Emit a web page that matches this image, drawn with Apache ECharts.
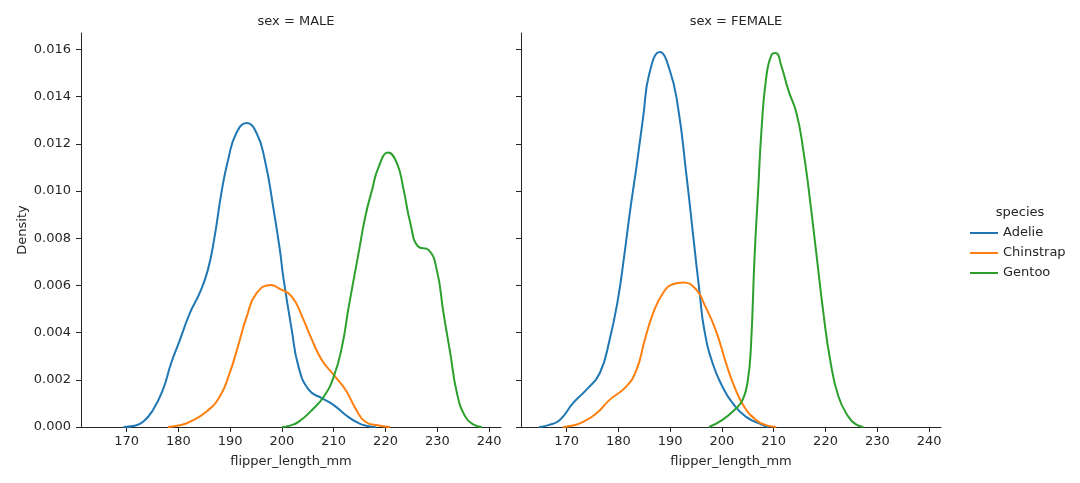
<!DOCTYPE html>
<html>
<head>
<meta charset="utf-8">
<script src="https://cdn.jsdelivr.net/npm/echarts@6/dist/echarts.min.js"></script>
<style>
html,body{margin:0;padding:0;background:#fff;}
#chart{width:1080px;height:483px;}
</style>
</head>
<body>
<div id="chart"></div>
<script>
// ---- data (flipper_length_mm, density) ----
const species = ['Adelie', 'Chinstrap', 'Gentoo'];
const panels = ['sex = MALE', 'sex = FEMALE'];
const xTicks = [170, 180, 190, 200, 210, 220, 230, 240];
const yTicks = [0, 0.002, 0.004, 0.006, 0.008, 0.010, 0.012, 0.014, 0.016];

const maleAdelie = [
  [169.4,0],[171.5,0.00005],[173.2,0.00022],[175.1,0.00072],[177.0,0.00157],[178.6,0.00270],
  [180.3,0.00369],[182.2,0.00482],[184.1,0.00567],[185.7,0.00666],[187.0,0.00807],[188.3,0.00991],
  [189.6,0.01132],[191.2,0.01246],[193.2,0.01288],[195.1,0.01246],[196.7,0.01132],[198.3,0.00934],
  [199.6,0.00751],[200.3,0.00630],[201.9,0.00411],[203.2,0.00256],[205.2,0.00157],[207.7,0.00122],
  [210.0,0.00093],[212.3,0.00051],[214.8,0.00016],[216.5,0.00004],[218.1,0]
];
const maleChinstrap = [
  [178.0,0],[180.0,0.00006],[182.2,0.00022],[185.4,0.00065],[188.0,0.00129],[189.9,0.00228],
  [191.5,0.00341],[193.2,0.00468],[195.1,0.00567],[197.9,0.00602],[199.4,0.00588],[201.9,0.00553],
  [203.9,0.00468],[205.8,0.00369],[207.7,0.00284],[210.0,0.00221],[212.3,0.00157],[214.2,0.00079],
  [216.1,0.00022],[218.7,0.00006],[220.9,0]
];
const maleGentoo = [
  [200.0,0],[201.5,0.00006],[203.2,0.00022],[205.8,0.00072],[208.1,0.00129],[210.0,0.00213],
  [211.6,0.00341],[212.9,0.00510],[214.8,0.00737],[216.1,0.00892],[217.4,0.01005],[218.7,0.01104],
  [220.5,0.01163],[222.2,0.01118],[223.5,0.01005],[224.8,0.00864],[226.3,0.00765],[228.3,0.00751],
  [229.9,0.00666],[231.2,0.00482],[232.5,0.00313],[233.8,0.00143],[235.4,0.00044],[237.0,0.00010],
  [238.6,0]
];
const femaleAdelie = [
  [164.7,0],[166.5,0.00008],[168.7,0.00030],[171.2,0.00100],[173.8,0.00157],[176.4,0.00228],
  [178.3,0.00369],[179.9,0.00539],[181.2,0.00737],[182.2,0.00906],[183.5,0.01104],[184.8,0.01316],
  [186.0,0.01500],[188.0,0.01589],[189.9,0.01514],[191.5,0.01358],[193.1,0.01076],[194.4,0.00821],
  [195.7,0.00567],[196.6,0.00411],[198.2,0.00270],[200.1,0.00171],[202.1,0.00100],[204.6,0.00044],
  [207.9,0.00008],[209.0,0]
];
const femaleChinstrap = [
  [169.3,0],[171.0,0.00005],[173.2,0.00022],[175.8,0.00058],[178.3,0.00115],[181.5,0.00171],
  [183.5,0.00242],[185.1,0.00369],[186.7,0.00482],[188.6,0.00567],[190.5,0.00605],[192.5,0.00612],
  [195.1,0.00581],[196.6,0.00520],[198.8,0.00411],[200.8,0.00270],[202.4,0.00171],[204.3,0.00086],
  [206.6,0.00030],[208.5,0.00008],[210.5,0]
];
const femaleGentoo = [
  [197.5,0],[200.1,0.00030],[202.4,0.00072],[204.0,0.00115],[205.0,0.00199],[205.6,0.00341],
  [206.3,0.00722],[207.0,0.01005],[207.6,0.01246],[208.5,0.01472],[209.6,0.01578],[210.4,0.01585],
  [211.5,0.01528],[212.8,0.01429],[214.4,0.01330],[215.7,0.01175],[217.0,0.00963],[218.3,0.00722],
  [219.6,0.00482],[220.9,0.00284],[222.5,0.00129],[224.4,0.00044],[225.8,0.00012],[227.3,0]
];

const colors = ['#1f77b4', '#ff7f0e', '#2ca02c'];
const panelData = [
  [maleAdelie, maleChinstrap, maleGentoo],
  [femaleAdelie, femaleChinstrap, femaleGentoo]
];

const TXT = '#262626';
const FONT = 'DejaVu Sans';
const gridLefts = [81, 521];
const GW = 420, GT = 33, GH = 394;

const chart = echarts.init(document.getElementById('chart'), null, {renderer: 'canvas'});

const grids = gridLefts.map(l => ({left: l, top: GT, width: GW, height: GH, outerBoundsMode: 'none', containLabel: false}));

const xAxes = gridLefts.map((l, i) => ({
  type: 'value', gridIndex: i, min: 161.2, max: 242.3,
  name: 'flipper_length_mm', nameLocation: 'middle', nameGap: 28,
  nameTextStyle: {color: TXT, fontFamily: FONT, fontSize: 13},
  axisLine: {show: true, onZero: false, lineStyle: {color: TXT, width: 1}},
  axisTick: {show: true, length: 5, lineStyle: {color: TXT, width: 1}, customValues: xTicks},
  axisLabel: {show: true, color: TXT, fontFamily: FONT, fontSize: 13, margin: 8, customValues: xTicks,
    formatter: v => String(Math.round(v))},
  splitLine: {show: false}
}));

const yAxes = gridLefts.map((l, i) => ({
  type: 'value', gridIndex: i, min: 0, max: 0.0167,
  name: i === 0 ? 'Density' : '', nameLocation: 'middle', nameGap: 52, nameRotate: 90,
  nameTextStyle: {color: TXT, fontFamily: FONT, fontSize: 13},
  axisLine: {show: true, onZero: false, lineStyle: {color: TXT, width: 1}},
  axisTick: {show: true, length: 5, lineStyle: {color: TXT, width: 1}, customValues: yTicks},
  axisLabel: {show: i === 0, color: TXT, fontFamily: FONT, fontSize: 13, margin: 10, customValues: yTicks,
    formatter: v => v.toFixed(3)},
  splitLine: {show: false}
}));

const series = [];
panelData.forEach((sets, pi) => {
  sets.forEach((d, si) => {
    series.push({
      name: species[si], type: 'line', xAxisIndex: pi, yAxisIndex: pi,
      data: d, smooth: 0.5, showSymbol: false, symbol: 'none',
      lineStyle: {color: colors[si], width: 2}, itemStyle: {color: colors[si]},
      emphasis: {disabled: true}, animation: false, clip: true
    });
  });
});

const titles = panels.map((t, i) => ({
  text: t, left: gridLefts[i] + GW / 2, top: 10, textAlign: 'center',
  textStyle: {color: TXT, fontFamily: FONT, fontSize: 13, fontWeight: 'normal'}
}));
titles.push({
  text: 'species', left: 1015, top: 201, textAlign: 'center',
  textStyle: {color: TXT, fontFamily: FONT, fontSize: 13, fontWeight: 'normal'}
});

chart.setOption({
  animation: false,
  backgroundColor: '#ffffff',
  color: colors,
  title: titles,
  grid: grids,
  xAxis: xAxes,
  yAxis: yAxes,
  legend: {
    data: species, orient: 'vertical', left: 965, top: 218,
    icon: 'rect', itemWidth: 28, itemHeight: 2, itemGap: 0,
    selectedMode: false,
    textStyle: {color: TXT, fontFamily: FONT, fontSize: 13, lineHeight: 20, padding: [0, 0, 0, 0]}
  },
  series: series
});
</script>
</body>
</html>
